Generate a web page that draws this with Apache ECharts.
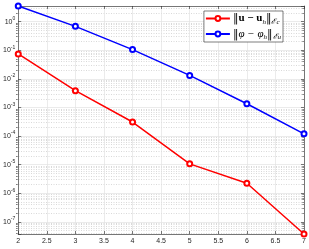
<!DOCTYPE html>
<html>
<head>
<meta charset="utf-8">
<script src="https://cdn.jsdelivr.net/npm/echarts@6/dist/echarts.min.js"></script>
<style>html,body{margin:0;padding:0;background:#fff}#c{width:309px;height:249px}</style>
</head>
<body>
<div id="c"></div>
<script>
const xValues = [2, 3, 4, 5, 6, 7];
const errU = [0.074, 0.00385, 3.1e-4, 1.07e-5, 2.26e-6, 3.8e-8];
const errPhi = [3.5, 0.68, 0.105, 0.0132, 0.00135, 1.2e-4];
const yMin = 3.8e-8, yMax = 3.5;
const xMin = 2, xMax = 7, xStep = 0.5;

// minor grid values (2..9 x 10^k) inside the axis range
const minorVals = [];
for (let k = -8; k <= 0; k++) {
  for (let m = 2; m <= 9; m++) {
    const v = m * Math.pow(10, k);
    if (v > yMin && v < yMax) minorVals.push(v);
  }
}

const axisColor = '#262626';
const font = 'Liberation Sans';
const chart = echarts.init(document.getElementById('c'));
const pair = (arr) => xValues.map((x, i) => [x, arr[i]]);
const gridRect = { left: 16, right: 5, top: 6, bottom: 15, show: false };
const minorAxis = (pos, showGrid) => ({
  type: 'log', logBase: 10, min: yMin, max: yMax, position: pos, gridIndex: 1,
  axisLine: { show: false },
  axisTick: { show: true, inside: true, length: 1.8, customValues: minorVals, lineStyle: { color: axisColor, width: 0.5 } },
  axisLabel: { show: false },
  splitLine: { show: showGrid, lineStyle: { type: [1, 1.5], color: '#c8c8c8', width: 0.7 } }
});
chart.setOption({
  animation: false,
  grid: [gridRect, Object.assign({}, gridRect)],
  legend: {
    right: 26, top: 11, orient: 'vertical',
    backgroundColor: '#fff', borderColor: axisColor, borderWidth: 0.6,
    padding: [2, 2, 1, 1], itemGap: 3, itemWidth: 24, itemHeight: 6,
    data: ['u', 'phi'],
    formatter: function (name) {
      if (name === 'u') return '{n|‖}{b|u − u}{s|h}{n|‖}{e|ℰ}{s|c}';
      return '{n|‖}{i|φ − φ}{s|h}{n|‖}{e|ℰ}{s|u}';
    },
    textStyle: {
      color: '#000', padding: [0, 0, 0, -2],
      rich: {
        n: { fontFamily: 'DejaVu Serif', fontSize: 11, color: '#000' },
        b: { fontFamily: 'Liberation Serif', fontSize: 11, fontWeight: 'bold', color: '#000' },
        i: { fontFamily: 'Liberation Serif', fontSize: 11, fontStyle: 'italic', color: '#000' },
        s: { fontFamily: 'Liberation Serif', fontSize: 7, color: '#000', padding: [7, 0, 0, 0], fontStyle: 'italic' },
        e: { fontFamily: 'DejaVu Serif', fontSize: 8, color: '#000', padding: [6, 0, 0, 0], fontStyle: 'italic' }
      }
    }
  },
  xAxis: [{
    type: 'value', min: xMin, max: xMax, interval: xStep, gridIndex: 0, position: 'bottom',
    axisLine: { show: true, lineStyle: { color: axisColor, width: 0.6 } },
    axisTick: { show: true, inside: true, length: 3, lineStyle: { color: axisColor, width: 0.6 } },
    axisLabel: { color: axisColor, fontFamily: font, fontSize: 7, margin: 4 },
    splitLine: { show: true, lineStyle: { color: '#e3e3e3', width: 0.7 } }
  }, {
    type: 'value', position: 'top', min: xMin, max: xMax, interval: xStep, gridIndex: 0,
    axisLine: { show: true, lineStyle: { color: axisColor, width: 0.6 } },
    axisTick: { show: true, inside: true, length: 3, lineStyle: { color: axisColor, width: 0.6 } },
    axisLabel: { show: false }, splitLine: { show: false }
  }, {
    type: 'value', min: xMin, max: xMax, interval: xStep, gridIndex: 1, show: false
  }],
  yAxis: [{
    type: 'log', logBase: 10, min: yMin, max: yMax, splitNumber: 8, gridIndex: 0, position: 'left',
    axisLine: { show: true, lineStyle: { color: axisColor, width: 0.6 } },
    axisTick: { show: true, inside: true, length: 3, lineStyle: { color: axisColor, width: 0.6 } },
    axisLabel: {
      color: axisColor, fontFamily: font, fontSize: 7, margin: 3,
      formatter: function (v) {
        const e = Math.log10(v);
        if (Math.abs(e - Math.round(e)) > 1e-6) return '';
        return '{b|10}{s|' + Math.round(e) + '}';
      },
      rich: {
        b: { fontFamily: font, fontSize: 7, color: axisColor },
        s: { fontFamily: font, fontSize: 5, color: axisColor, padding: [0, 0, 6, 0] }
      }
    },
    splitLine: { show: true, lineStyle: { color: '#e3e3e3', width: 0.7 } }
  }, {
    type: 'log', logBase: 10, min: yMin, max: yMax, splitNumber: 8, position: 'right', gridIndex: 0,
    axisLine: { show: true, lineStyle: { color: axisColor, width: 0.6 } },
    axisTick: { show: true, inside: true, length: 3, lineStyle: { color: axisColor, width: 0.6 } },
    axisLabel: { show: false }, splitLine: { show: false }
  }, minorAxis('left', true), minorAxis('right', false)],
  series: [{
    name: 'u', type: 'line', data: pair(errU), xAxisIndex: 0, yAxisIndex: 0,
    color: '#ff0000', symbol: 'emptyCircle', symbolSize: 5,
    lineStyle: { width: 1.5, color: '#ff0000' },
    itemStyle: { color: '#ff0000', borderWidth: 1.5 },
    z: 3
  }, {
    name: 'phi', type: 'line', data: pair(errPhi), xAxisIndex: 0, yAxisIndex: 0,
    color: '#0000ff', symbol: 'emptyCircle', symbolSize: 5,
    lineStyle: { width: 1.5, color: '#0000ff' },
    itemStyle: { color: '#0000ff', borderWidth: 1.5 },
    z: 3
  }]
});
</script>
</body>
</html>
